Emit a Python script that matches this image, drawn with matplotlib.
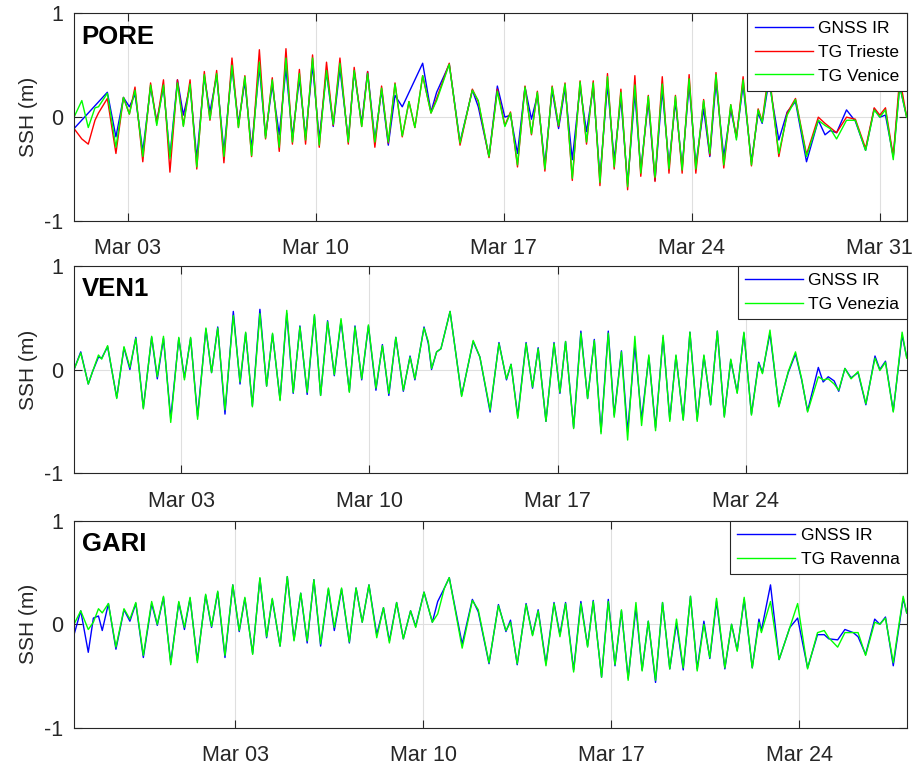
import numpy as np
import pandas as pd
import matplotlib
matplotlib.use('Agg')
import matplotlib.pyplot as plt
import matplotlib.dates as mdates

nan = np.nan

# PORE panel (days since axis start)
pore_start = '2021-03-01'
pore_ticks = ['2021-03-03', '2021-03-10', '2021-03-17', '2021-03-24', '2021-03-31']
pore_t = [0.00, 0.29, 0.53, 0.78, 0.91, 1.24, 1.56, 1.84, 2.06, 2.27, 2.56, 2.85, 3.08, 3.33, 3.57,
          3.85, 4.07, 4.32, 4.57, 4.85, 5.06, 5.31, 5.58, 5.88, 6.12, 6.36, 6.61, 6.90, 7.13, 7.38,
          7.64, 7.89, 8.13, 8.39, 8.62, 8.88, 9.13, 9.40, 9.65, 9.90, 10.21,
          10.43, 10.71, 10.93, 11.20, 11.45, 11.70, 11.95, 12.22, 12.47, 12.69, 12.98, 13.29, 13.50,
          13.97, 14.37, 14.83, 15.05, 15.45, 15.76, 16.04, 16.25, 16.51, 16.79, 17.03, 17.25, 17.53,
          17.80, 18.04, 18.28, 18.55, 18.84, 19.08, 19.33, 19.58, 19.86, 20.11, 20.36,
          20.61, 20.88, 21.10, 21.38, 21.63, 21.90, 22.15, 22.39, 22.64, 22.90, 23.15, 23.44, 23.67,
          23.90, 24.19, 24.45, 24.66, 24.91, 25.22, 25.47, 25.62, 25.87, 26.24, 26.55, 26.86, 27.27,
          27.71, 27.96, 28.15, 28.39, 28.76, 29.09, 29.47, 29.79, 30.00, 30.21, 30.50, 30.74, 31.00]
pore_gnss = [-0.11, nan, nan, nan, nan, 0.24, -0.19, 0.19, 0.10, 0.22, -0.33, 0.29, -0.04, 0.29, -0.38,
             0.36, 0.02, 0.30, -0.40, 0.39, 0.05, 0.40, -0.33, 0.48, -0.06, 0.34, -0.30, 0.48, -0.18, 0.31,
             -0.17, 0.47, -0.19, 0.37, -0.19, 0.50, -0.21, 0.44, -0.09, 0.47, -0.22,
             0.44, -0.06, 0.44, -0.22, 0.26, -0.27, 0.21, 0.10, nan, nan, 0.52, 0.05, 0.24,
             0.51, -0.24, 0.26, 0.10, -0.38, 0.30, 0.00, 0.02, -0.35, 0.29, -0.02, 0.21, -0.46,
             0.26, -0.11, 0.28, -0.41, 0.29, -0.14, 0.29, -0.58, 0.31, -0.41, 0.18,
             -0.64, 0.23, -0.51, 0.15, -0.61, 0.26, -0.46, 0.15, -0.48, 0.31, -0.46, 0.08, -0.38,
             0.34, -0.38, 0.07, -0.19, 0.31, -0.43, 0.04, -0.06, 0.35, -0.22, 0.05, 0.15, -0.43,
             -0.03, -0.17, -0.13, -0.15, 0.07, -0.04, -0.32, 0.08, 0.00, 0.02, -0.38, 0.30, 0.00]
pore_trieste = [-0.11, -0.21, -0.26, -0.03, 0.04, 0.18, -0.35, 0.19, 0.03, 0.29, -0.43, 0.33, -0.06, 0.36, -0.53,
                0.36, -0.08, 0.36, -0.50, 0.44, -0.03, 0.45, -0.44, 0.57, -0.10, 0.40, -0.38, 0.65, -0.21, 0.38,
                -0.33, 0.66, -0.26, 0.46, -0.26, 0.60, -0.29, 0.53, -0.08, 0.57, -0.26,
                0.48, -0.09, 0.44, -0.29, 0.30, -0.25, 0.33, -0.19, 0.15, -0.10, 0.40, 0.04, 0.18,
                0.52, -0.27, 0.27, 0.15, -0.39, 0.27, -0.08, 0.05, -0.48, 0.30, -0.17, 0.25, -0.52,
                0.30, -0.09, 0.33, -0.61, 0.35, -0.26, 0.35, -0.66, 0.42, -0.50, 0.27,
                -0.70, 0.40, -0.57, 0.21, -0.62, 0.39, -0.54, 0.21, -0.54, 0.41, -0.54, 0.17, -0.37,
                0.43, -0.49, 0.12, -0.20, 0.39, -0.47, 0.08, -0.04, 0.45, -0.38, 0.04, 0.18, -0.36,
                0.00, -0.06, -0.10, -0.15, 0.00, -0.02, -0.30, 0.09, 0.02, 0.09, -0.38, 0.38, 0.00]
pore_venice = [0.00, 0.16, -0.10, 0.09, 0.10, 0.23, -0.29, 0.19, 0.03, 0.26, -0.38, 0.31, -0.08, 0.31, -0.40,
               0.33, -0.09, 0.32, -0.48, 0.41, -0.02, 0.42, -0.38, 0.50, -0.10, 0.39, -0.37, 0.53, -0.20, 0.36,
               -0.29, 0.57, -0.24, 0.42, -0.22, 0.57, -0.27, 0.45, -0.07, 0.52, -0.24,
               0.45, -0.09, 0.42, -0.24, 0.28, -0.24, 0.32, -0.18, 0.15, -0.10, 0.40, 0.04, 0.16,
               0.51, -0.25, 0.26, 0.16, -0.38, 0.25, -0.09, 0.04, -0.46, 0.29, -0.16, 0.24, -0.50,
               0.29, -0.08, 0.32, -0.59, 0.34, -0.24, 0.33, -0.63, 0.39, -0.48, 0.24,
               -0.67, 0.31, -0.54, 0.20, -0.58, 0.32, -0.50, 0.20, -0.51, 0.37, -0.50, 0.16, -0.35,
               0.41, -0.46, 0.12, -0.22, 0.36, -0.46, 0.07, -0.05, 0.40, -0.35, 0.02, 0.17, -0.38,
               -0.03, -0.08, -0.11, -0.21, -0.03, -0.03, -0.32, 0.07, 0.00, 0.07, -0.41, 0.30, 0.00]

# VEN1 panel
ven_start = '2021-02-27'
ven_ticks = ['2021-03-03', '2021-03-10', '2021-03-17', '2021-03-24']
ven_t = [0.00, 0.25, 0.53, 0.69, 0.91, 1.03, 1.25, 1.59, 1.86, 2.08, 2.30, 2.58, 2.89, 3.10, 3.33,
         3.60, 3.90, 4.11, 4.34, 4.60, 4.91, 5.12, 5.35, 5.62, 5.93, 6.18, 6.39, 6.64, 6.92, 7.17,
         7.39, 7.67, 7.92, 8.16, 8.41, 8.68, 8.95, 9.18, 9.44, 9.69, 9.94, 10.25,
         10.46, 10.71, 10.96, 11.24, 11.48, 11.72, 11.98, 12.26, 12.51, 12.69, 13.03, 13.19, 13.31,
         13.50, 13.66, 14.00, 14.43, 14.86, 15.11, 15.49, 15.82, 16.10, 16.27, 16.52, 16.83, 17.07,
         17.28, 17.57, 17.87, 18.09, 18.30, 18.60, 18.87, 19.12, 19.37, 19.62, 19.89, 20.11, 20.38,
         20.61, 20.88, 21.13, 21.40, 21.65, 21.93, 22.18, 22.41, 22.68, 22.93, 23.20, 23.45, 23.70,
         23.95, 24.21, 24.45, 24.69, 24.94, 25.22, 25.49, 25.63, 25.91, 26.24, 26.59, 26.86, 27.09,
         27.31, 27.71, 27.89, 28.08, 28.30, 28.47, 28.70, 28.93, 29.19, 29.48, 29.82, 30.00, 30.21,
         30.50, 30.83, 31.00]
ven_gnss = [0.00, 0.17, -0.14, -0.02, 0.12, 0.11, 0.22, -0.27, 0.21, 0.00, 0.31, -0.37, 0.31, -0.09, 0.30,
            -0.47, 0.30, -0.08, 0.30, -0.45, 0.39, -0.03, 0.41, -0.43, 0.56, -0.14, 0.35, -0.35, 0.58, -0.16,
            0.34, -0.29, 0.54, -0.23, 0.42, -0.24, 0.52, -0.25, 0.47, -0.06, 0.47, -0.21,
            0.42, -0.10, 0.42, -0.20, 0.24, -0.25, 0.31, -0.21, 0.13, -0.10, 0.41, 0.25, 0.00,
            0.17, 0.20, 0.56, -0.25, 0.27, 0.12, -0.41, 0.26, -0.10, 0.05, -0.45, 0.26, -0.18,
            0.21, -0.50, 0.26, -0.23, 0.27, -0.56, 0.37, -0.28, 0.29, -0.60, 0.37, -0.44, 0.18,
            -0.60, 0.23, -0.48, 0.12, -0.56, 0.31, -0.48, 0.13, -0.48, 0.36, -0.48, 0.13, -0.34,
            0.37, -0.45, 0.09, -0.22, 0.35, -0.43, 0.07, -0.03, 0.35, -0.35, -0.03, 0.15, -0.10,
            -0.40, 0.02, -0.12, -0.07, -0.11, -0.21, 0.01, -0.08, -0.03, -0.34, 0.13, 0.00, 0.08,
            -0.40, 0.33, 0.12]
ven_tg = [0.00, 0.16, -0.14, -0.02, 0.14, 0.10, 0.23, -0.28, 0.22, 0.02, 0.30, -0.38, 0.32, -0.07, 0.32,
          -0.51, 0.31, -0.10, 0.31, -0.48, 0.40, -0.03, 0.40, -0.39, 0.52, -0.12, 0.36, -0.36, 0.54, -0.16,
          0.35, -0.30, 0.57, -0.22, 0.41, -0.22, 0.53, -0.25, 0.46, -0.05, 0.49, -0.22,
          0.41, -0.09, 0.43, -0.18, 0.23, -0.23, 0.31, -0.20, 0.12, -0.09, 0.40, 0.27, 0.01,
          0.17, 0.20, 0.56, -0.26, 0.28, 0.12, -0.39, 0.25, -0.09, 0.05, -0.47, 0.25, -0.17,
          0.20, -0.50, 0.25, -0.22, 0.27, -0.57, 0.35, -0.28, 0.28, -0.62, 0.35, -0.46, 0.17,
          -0.68, 0.32, -0.54, 0.14, -0.59, 0.33, -0.50, 0.14, -0.49, 0.36, -0.50, 0.14, -0.34,
          0.37, -0.46, 0.10, -0.23, 0.36, -0.44, 0.06, -0.04, 0.38, -0.36, -0.02, 0.17, -0.09,
          -0.41, -0.07, -0.10, -0.09, -0.14, -0.20, 0.01, -0.09, -0.02, -0.33, 0.11, -0.01, 0.07,
          -0.41, 0.36, 0.11]

# GARI panel
gari_start = '2021-02-25'
gari_ticks = ['2021-03-03', '2021-03-10', '2021-03-17', '2021-03-24']
gari_t = [0.00, 0.25, 0.53, 0.72, 0.91, 1.05, 1.28, 1.56, 1.86, 2.08, 2.30, 2.58, 2.89, 3.10, 3.33,
          3.60, 3.90, 4.11, 4.32, 4.59, 4.90, 5.12, 5.35, 5.62, 5.91, 6.15, 6.36, 6.65, 6.92, 7.17,
          7.38, 7.67, 7.94, 8.19, 8.44, 8.68, 8.93, 9.18, 9.47, 9.69, 9.96, 10.25,
          10.50, 10.73, 10.98, 11.27, 11.52, 11.74, 12.01, 12.26, 12.53, 12.72, 13.03, 13.34, 13.54,
          13.79, 13.97, 14.45, 14.83, 15.05, 15.45, 15.80, 16.08, 16.25, 16.50, 16.83, 17.07, 17.28,
          17.57, 17.87, 18.09, 18.30, 18.60, 18.87, 19.12, 19.33, 19.64, 19.89, 20.14, 20.38,
          20.63, 20.92, 21.15, 21.38, 21.65, 21.91, 22.18, 22.43, 22.68, 22.95, 23.20, 23.45, 23.67,
          23.92, 24.23, 24.48, 24.69, 24.95, 25.25, 25.50, 25.59, 25.93, 26.25, 26.65, 26.94, 27.31,
          27.68, 27.93, 28.10, 28.43, 28.70, 29.01, 29.19, 29.47, 29.81, 30.00, 30.21, 30.50, 30.87,
          31.00]
gari_gnss = [-0.10, 0.13, -0.27, 0.06, 0.08, -0.06, 0.20, -0.24, 0.14, 0.03, 0.20, -0.32, 0.20, -0.01, 0.26,
             -0.37, 0.21, -0.05, 0.25, -0.35, 0.28, -0.03, 0.31, -0.32, 0.38, -0.07, 0.25, -0.28, 0.44, -0.13,
             0.24, -0.21, 0.46, -0.15, 0.30, -0.18, 0.43, -0.21, 0.34, -0.06, 0.34, -0.18,
             0.35, 0.02, 0.38, -0.10, 0.16, -0.16, 0.21, -0.14, 0.13, -0.02, 0.31, 0.02, 0.22,
             0.35, 0.45, -0.19, 0.24, 0.12, -0.38, 0.19, -0.07, 0.04, -0.39, 0.20, -0.10, 0.14,
             -0.38, 0.21, -0.10, 0.21, -0.44, 0.22, -0.21, 0.23, -0.51, 0.24, -0.40, 0.13,
             -0.52, 0.16, -0.44, 0.03, -0.56, 0.21, -0.43, 0.01, -0.44, 0.27, -0.43, 0.03, -0.33,
             0.22, -0.43, 0.00, -0.25, 0.24, -0.42, 0.05, -0.06, 0.38, -0.34, -0.03, 0.06, -0.42,
             -0.10, -0.10, -0.14, -0.15, -0.05, -0.08, -0.12, -0.29, 0.05, 0.00, 0.07, -0.40, 0.25,
             0.11]
gari_tg = [0.00, 0.13, -0.05, 0.02, 0.15, 0.11, 0.20, -0.22, 0.15, 0.05, 0.21, -0.30, 0.22, 0.00, 0.27,
           -0.39, 0.22, -0.03, 0.26, -0.37, 0.29, -0.02, 0.32, -0.30, 0.38, -0.06, 0.26, -0.29, 0.45, -0.12,
           0.25, -0.21, 0.46, -0.16, 0.30, -0.16, 0.43, -0.19, 0.35, -0.03, 0.35, -0.17,
           0.35, 0.02, 0.38, -0.13, 0.16, -0.18, 0.21, -0.14, 0.13, -0.03, 0.31, 0.02, 0.10,
           0.35, 0.45, -0.23, 0.23, 0.14, -0.37, 0.18, -0.06, 0.02, -0.38, 0.19, -0.11, 0.13,
           -0.40, 0.20, -0.12, 0.20, -0.46, 0.20, -0.22, 0.22, -0.51, 0.22, -0.39, 0.14,
           -0.54, 0.21, -0.45, 0.03, -0.54, 0.21, -0.43, 0.05, -0.42, 0.27, -0.45, 0.00, -0.32,
           0.25, -0.42, 0.00, -0.26, 0.26, -0.42, 0.02, -0.08, 0.22, -0.34, -0.03, 0.20, -0.43,
           -0.08, -0.06, -0.13, -0.22, -0.08, -0.08, -0.08, -0.30, 0.02, 0.00, 0.06, -0.37, 0.27,
           0.11]

plt.rcParams['font.family'] = ['Liberation Sans', 'DejaVu Sans']
plt.rcParams['axes.unicode_minus'] = False

AX_COL = '#262626'


def draw_panel(ax, start, t, series, labels, colors, station, ticks):
    t0 = pd.Timestamp(start)
    x = t0 + pd.to_timedelta(np.asarray(t), unit='D')
    for v, lab, c in zip(series, labels, colors):
        v = np.asarray(v, dtype=float)
        ok = ~np.isnan(v)
        ax.plot(x[ok], v[ok], color=c, lw=1.0, label=lab, solid_joinstyle='round')
    ax.set_xlim(t0, t0 + pd.Timedelta(days=31))
    ax.set_ylim(-1, 1)
    ax.set_yticks([-1, 0, 1])
    ax.set_xticks([pd.Timestamp(d) for d in ticks])
    ax.xaxis.set_major_formatter(mdates.DateFormatter('%b %d'))
    ax.tick_params(direction='in', length=6, width=0.8, top=True, right=True,
                   colors=AX_COL, labelsize=15.5)
    ax.tick_params(axis='x', pad=12.5)
    ax.tick_params(axis='y', pad=8)
    for s in ax.spines.values():
        s.set_color(AX_COL)
        s.set_linewidth(0.8)
    ax.grid(True, color='#dfdfdf', lw=0.8)
    ax.set_axisbelow(True)
    ax.set_ylabel('SSH (m)', fontsize=15, color=AX_COL, labelpad=4)
    ax.text(0.009, 0.855, station, transform=ax.transAxes, fontsize=18.5,
            fontweight='bold', va='baseline', color='black')
    leg = ax.legend(loc='upper right', fontsize=12.5, fancybox=False, framealpha=1,
                    edgecolor=AX_COL, borderaxespad=0, handlelength=3.35,
                    handletextpad=0.3, borderpad=0.42, labelspacing=0.5)
    leg.get_frame().set_linewidth(0.8)


fig = plt.figure(figsize=(9.14, 7.67), dpi=100)
ax1 = fig.add_axes([0.081, 0.712, 0.911, 0.2705])
ax2 = fig.add_axes([0.081, 0.383, 0.911, 0.2705])
ax3 = fig.add_axes([0.081, 0.0508, 0.911, 0.2705])

draw_panel(ax1, pore_start, pore_t, [pore_gnss, pore_trieste, pore_venice],
           ['GNSS IR', 'TG Trieste', 'TG Venice'], ['#0000ff', '#ff0000', '#00ff00'],
           'PORE', pore_ticks)
draw_panel(ax2, ven_start, ven_t, [ven_gnss, ven_tg],
           ['GNSS IR', 'TG Venezia'], ['#0000ff', '#00ff00'], 'VEN1', ven_ticks)
draw_panel(ax3, gari_start, gari_t, [gari_gnss, gari_tg],
           ['GNSS IR', 'TG Ravenna'], ['#0000ff', '#00ff00'], 'GARI', gari_ticks)

fig.savefig('out.png', dpi=100)
